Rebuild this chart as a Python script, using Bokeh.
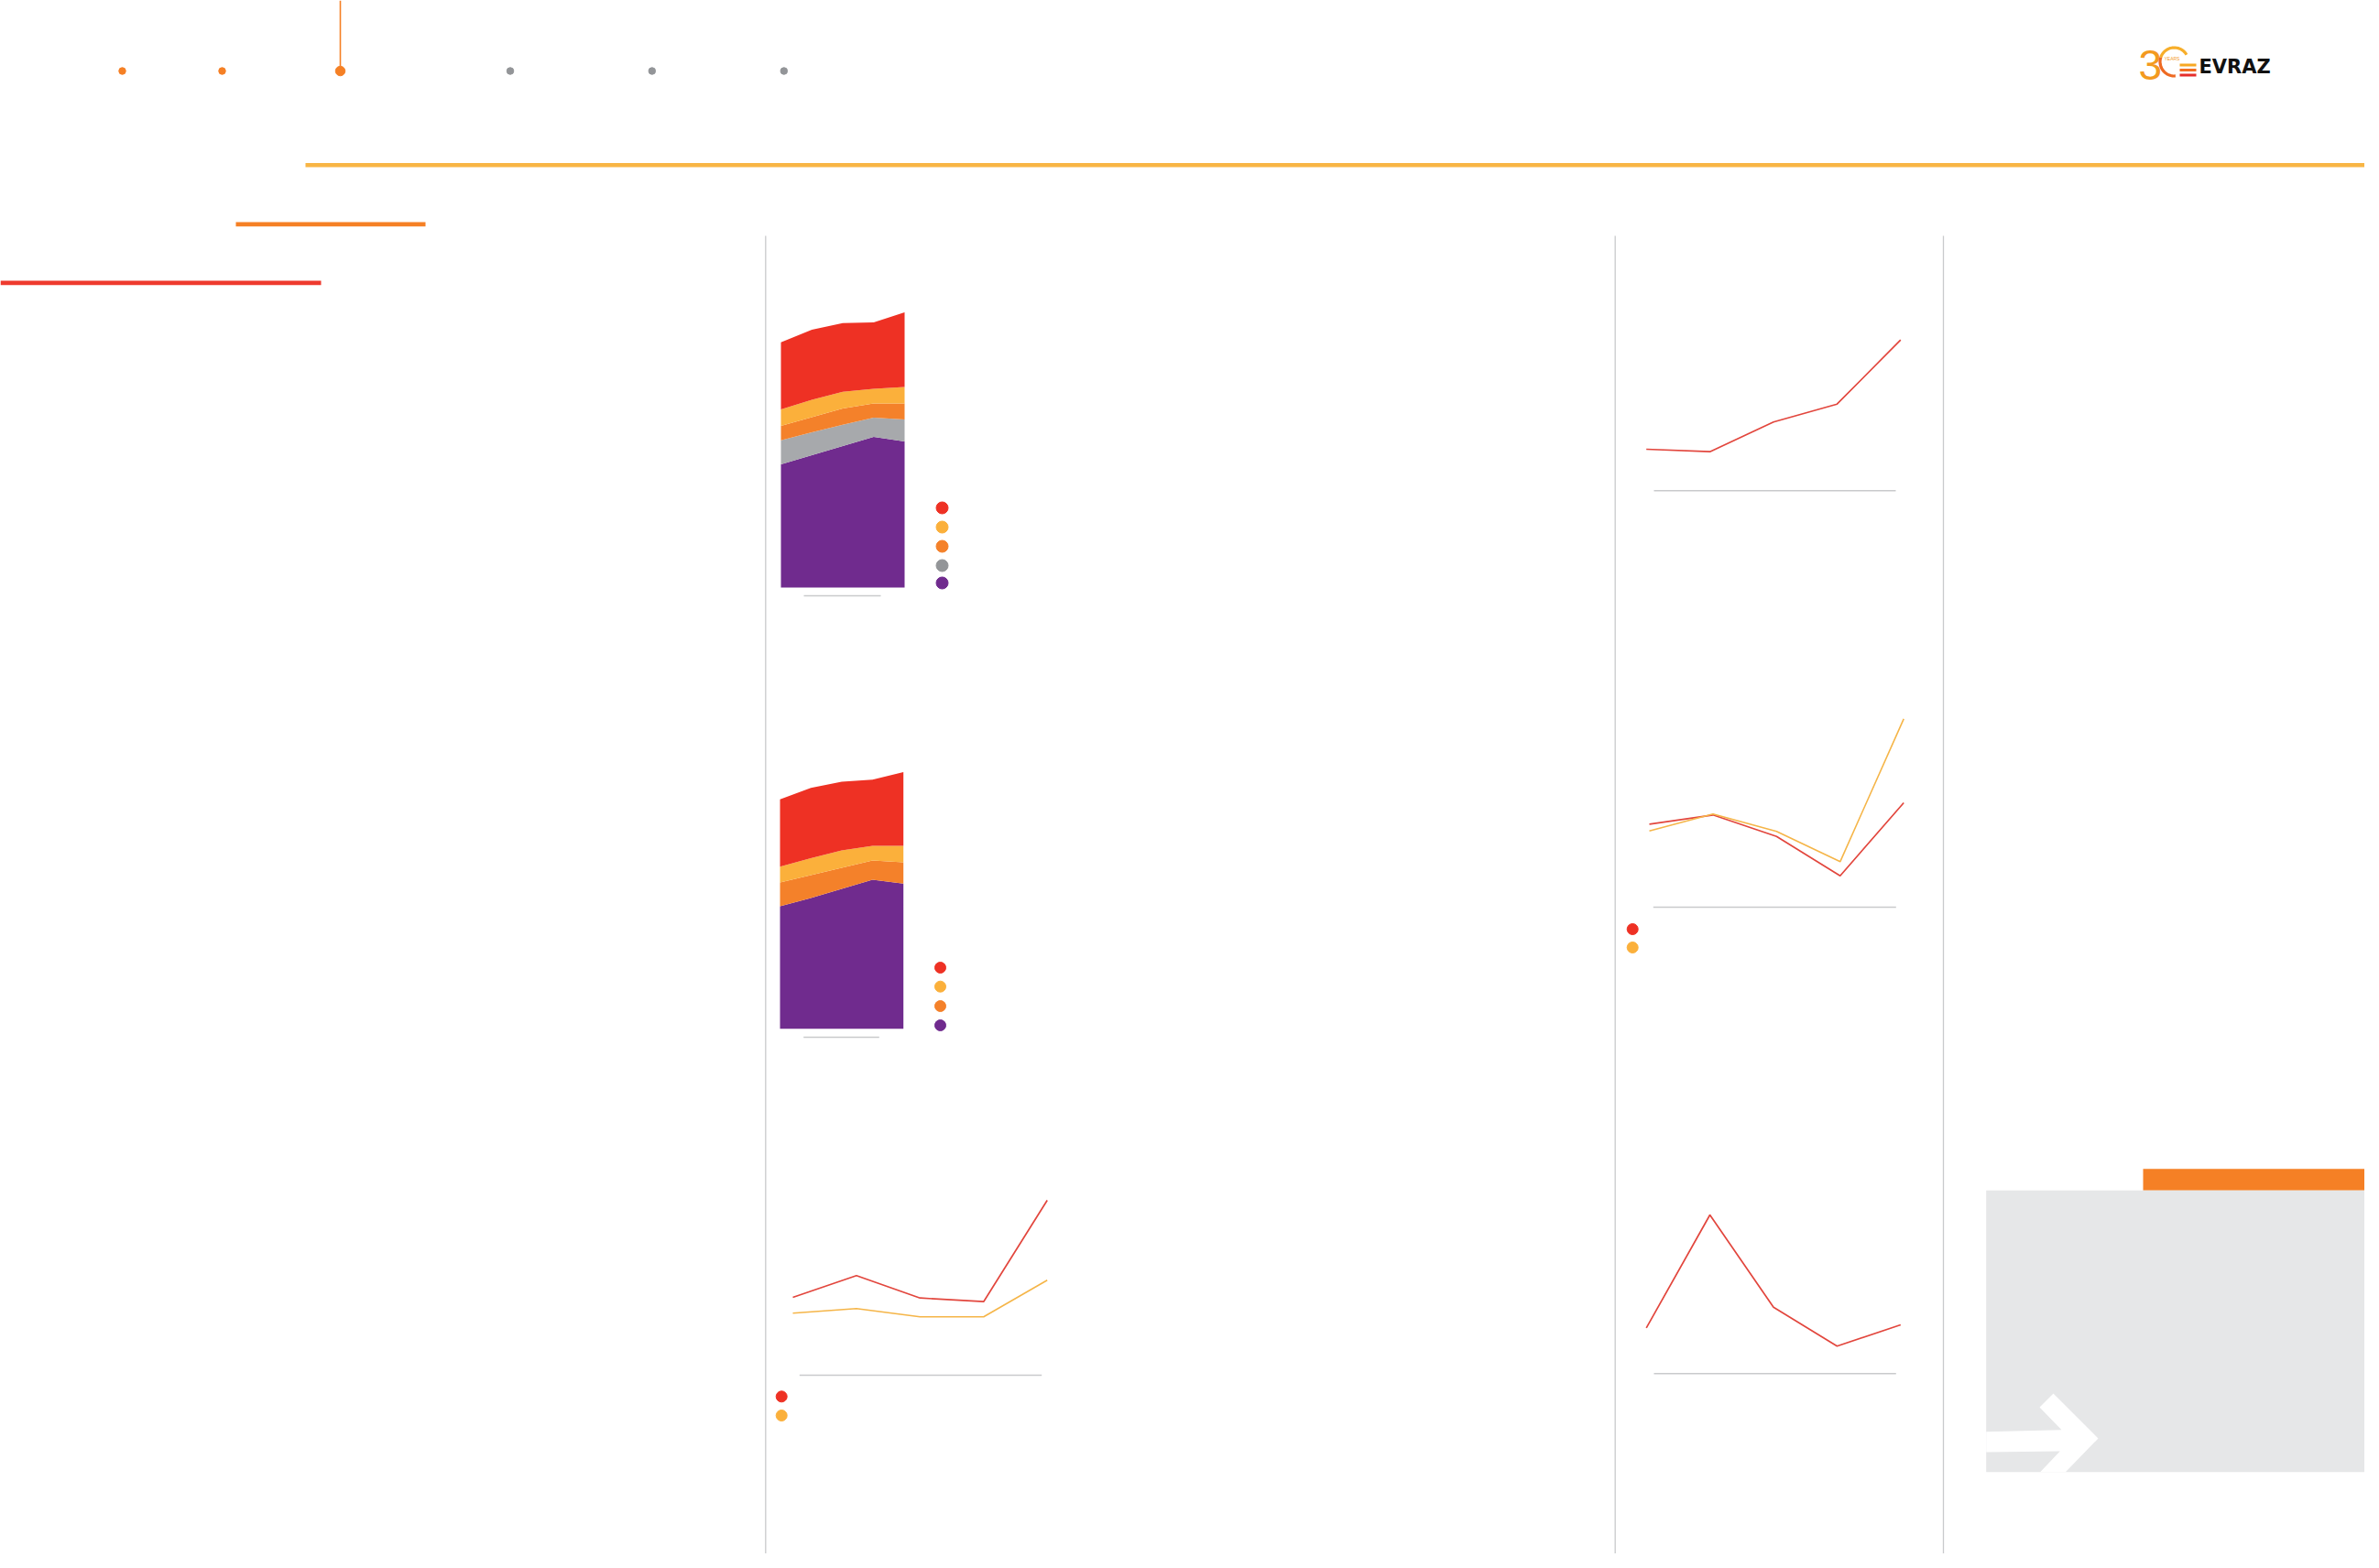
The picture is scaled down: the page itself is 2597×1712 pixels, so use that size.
import numpy as np
from bokeh.plotting import figure
from bokeh.models import Range1d
from bokeh.embed import file_html
from bokeh.resources import INLINE
from bokeh.core.properties import value

# ---------------- data ----------------
years = [2018, 2019, 2020, 2021, 2022]

# stacked area chart 1 (bottom -> top)
a1_purple = [6.72, 7.22, 7.72, 8.22, 7.97]
a1_gray = [1.32, 1.25, 1.17, 1.05, 1.20]
a1_orange = [0.78, 0.83, 0.88, 0.78, 0.88]
a1_yellow = [0.90, 0.95, 0.92, 0.80, 0.90]
a1_red = [3.67, 3.83, 3.75, 3.63, 4.07]

# stacked area chart 2 (bottom -> top)
a2_purple = [6.69, 7.14, 7.64, 8.14, 7.92]
a2_orange = [1.29, 1.25, 1.14, 1.05, 1.17]
a2_yellow = [0.87, 0.92, 0.95, 0.79, 0.89]
a2_red = [3.67, 3.84, 3.75, 3.62, 4.03]

# line chart bottom-left
l1_red = [8.5, 10.87, 8.43, 8.03, 19.1]
l1_yellow = [6.77, 7.27, 6.37, 6.37, 10.37]

# right column line charts
r1_red = [4.53, 4.26, 7.5, 9.46, 16.46]
r2_red = [9.07, 10.07, 7.73, 3.43, 11.4]
r2_yellow = [8.33, 10.17, 8.27, 4.97, 20.57]
r3_red = [5.0, 17.33, 7.26, 3.0, 5.33]

# ---------------- styles ----------------
RED = "#EE3124"
YELLOW = "#FBB03B"
ORANGE = "#F4812A"
GRAY_AREA = "#A7A9AC"
GRAY_DOT = "#939598"
PURPLE = "#702B8E"
LINE_RED = "#E2463D"
LINE_YEL = "#F5B548"
RULE = "#C9CACC"

W, H = 2581, 1696
p = figure(width=W, height=H, output_backend="svg", toolbar_location=None,
           x_range=Range1d(0, W), y_range=Range1d(H, 0),
           min_border=0, background_fill_color="white", border_fill_color="white")
p.axis.visible = False
p.grid.visible = False
p.outline_line_color = None

# ---------------- page decorations ----------------
# header navigation
p.segment(x0=[371], y0=[0], x1=[371], y1=[72], line_color="#F58025", line_width=1.6)
p.scatter(x=[133, 242], y=[77, 77], size=7.5, color="#F58025")
p.scatter(x=[371], y=[77], size=10.5, color="#F58025")
p.scatter(x=[556.5, 711.3, 855.3], y=[77, 77, 77], size=7.5, color=GRAY_DOT)

# coloured rules
p.quad(left=[333], right=[2600], top=[177.5], bottom=[182], color="#F8B544", line_width=0)
p.quad(left=[257], right=[464], top=[242], bottom=[246.7], color="#F58025", line_width=0)
p.quad(left=[0], right=[350], top=[306], bottom=[310.7], color="#EE3A2E", line_width=0)

# column separators
for sx in [835.3, 1762.7, 2121]:
    p.segment(x0=[sx], y0=[257], x1=[sx], y1=[1712], line_color=RULE, line_width=1.3)

# logo
p.text(x=[2334], y=[86], text=["3"], text_font=value("Liberation Sans"),
       text_font_size="46px", text_color="#F39A1F", text_baseline="bottom")
t = np.deg2rad(np.linspace(30, 275, 40))
ax = 2373 + 15.5 * np.cos(t)
ay = 67 - 15.5 * np.sin(t)
p.line(x=ax[:22], y=ay[:22], line_color="#F7AE2A", line_width=3.2)
p.line(x=ax[21:], y=ay[21:], line_color="#EE6A22", line_width=3.2)
p.text(x=[2362], y=[63], text=["YEARS"], text_font=value("Liberation Sans"),
       text_font_size="5px", text_color="#F39A1F", text_baseline="middle")
p.quad(left=[2379] * 3, right=[2397] * 3, top=[69, 74.5, 80], bottom=[72, 77.5, 83],
       color=["#F7A823", "#F26F21", "#E52E2B"], line_width=0)
p.text(x=[2400], y=[84], text=["EVRAZ"], text_font=value("DejaVu Sans"),
       text_font_style="bold", text_font_size="21px", text_color="#111111",
       text_baseline="bottom")

# bottom-right box with arrow
p.quad(left=[2339], right=[2600], top=[1275.7], bottom=[1299.3], color="#F58025", line_width=0)
p.quad(left=[2167.7], right=[2600], top=[1299.3], bottom=[1606.7], color="#E6E7E8", line_width=0)
p.patch(x=[2167.7, 2250, 2226, 2241, 2290, 2254.3, 2226.7, 2248.3, 2167.7],
        y=[1562.7, 1560.7, 1536, 1521, 1570, 1606.7, 1606.7, 1584, 1585],
        fill_color="white", line_color=None)

# chart baselines
for x0, x1, by in [(877, 961, 650), (876.7, 959.3, 1132), (872.3, 1136.7, 1501),
                   (1805, 2069, 535.3), (1804.3, 2069.3, 990), (1805, 2069.3, 1499.3)]:
    p.segment(x0=[x0], y0=[by], x1=[x1], y1=[by], line_color=RULE, line_width=1.5)


# ---------------- charts ----------------
def panel(left, right, base, span):
    return p.subplot(x_source=Range1d(years[0], years[-1]), y_source=Range1d(0, 10),
                     x_target=Range1d(left, right), y_target=Range1d(base, base - span))


def stacked(sub, layers, colors):
    bottom = np.zeros(len(years))
    for vals, col in zip(layers, colors):
        top = bottom + np.array(vals)
        sub.varea(x=years, y1=bottom.copy(), y2=top, fill_color=col)
        bottom = top


s1 = panel(852, 987, 641, 200)
stacked(s1, [a1_purple, a1_gray, a1_orange, a1_yellow, a1_red],
        [PURPLE, GRAY_AREA, ORANGE, YELLOW, RED])
p.scatter(x=[1028] * 5, y=[554, 575, 596, 617, 636], size=13,
          color=[RED, YELLOW, ORANGE, GRAY_DOT, PURPLE])

s2 = panel(851, 985.7, 1122.7, 200)
stacked(s2, [a2_purple, a2_orange, a2_yellow, a2_red], [PURPLE, ORANGE, YELLOW, RED])
p.scatter(x=[1026] * 4, y=[1056, 1076.7, 1098, 1119], size=12,
          color=[RED, YELLOW, ORANGE, PURPLE])

s3 = panel(865, 1142.7, 1501, 100)
s3.line(x=years, y=l1_red, line_color=LINE_RED, line_width=1.7)
s3.line(x=years, y=l1_yellow, line_color=LINE_YEL, line_width=1.6)
p.scatter(x=[852.7] * 2, y=[1524.3, 1545], size=12, color=[RED, YELLOW])

r1 = panel(1796.7, 2074.3, 535.3, 100)
r1.line(x=years, y=r1_red, line_color=LINE_RED, line_width=1.7)

r2 = panel(1800, 2077.7, 990, 100)
r2.line(x=years, y=r2_red, line_color=LINE_RED, line_width=1.7)
r2.line(x=years, y=r2_yellow, line_color=LINE_YEL, line_width=1.6)
p.scatter(x=[1781.7] * 2, y=[1014, 1034], size=12, color=[RED, YELLOW])

r3 = panel(1796.7, 2074.3, 1499.3, 100)
r3.line(x=years, y=r3_red, line_color=LINE_RED, line_width=1.7)

open("out.html", "w").write(file_html(p, INLINE))
